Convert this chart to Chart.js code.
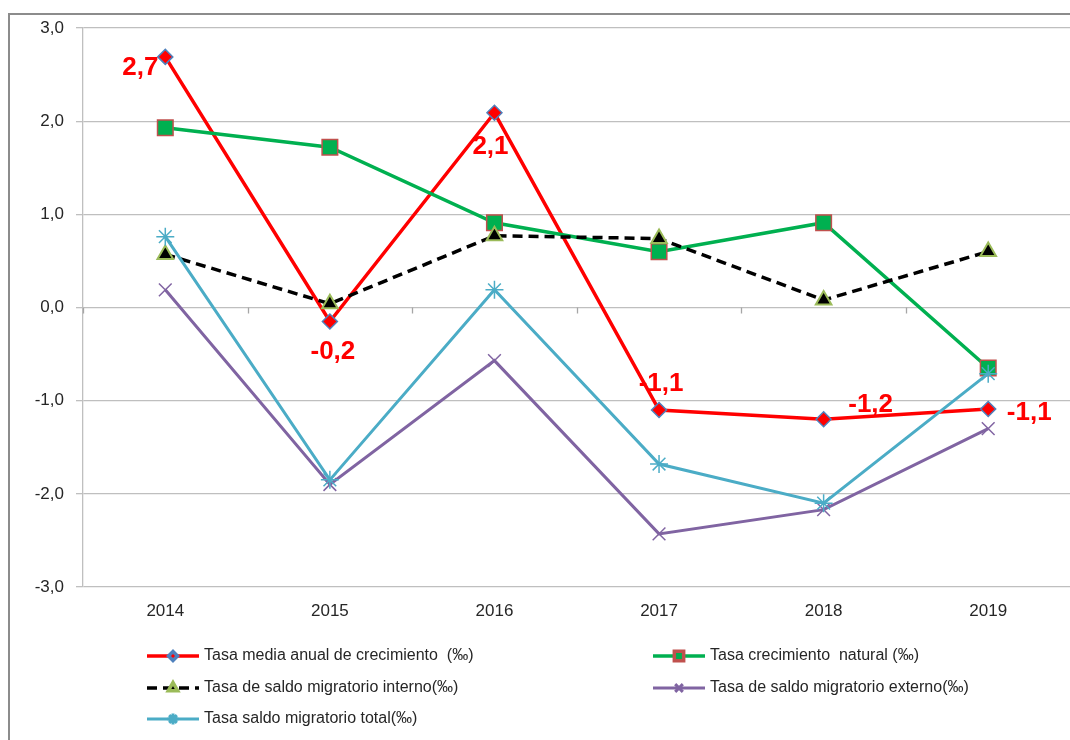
<!DOCTYPE html>
<html>
<head>
<meta charset="utf-8">
<script src="https://cdn.jsdelivr.net/npm/chart.js@4.4.1/dist/chart.umd.min.js"></script>
<style>
  html, body { margin:0; padding:0; background:#fff; overflow:hidden; }
  #wrap { width:1070px; height:740px; overflow:hidden; }
</style>
</head>
<body>
<div id="wrap"><canvas id="tasasChart" width="1083" height="740"></canvas></div>
<script>
// ===== Data =====
const years = ['2014', '2015', '2016', '2017', '2018', '2019'];
const crecimientoMedio = [2.69, -0.15, 2.09, -1.10, -1.20, -1.09];
const crecimientoNatural = [1.93, 1.72, 0.91, 0.60, 0.91, -0.65];
const saldoInterno = [0.57, 0.04, 0.77, 0.74, 0.08, 0.60];
const saldoExterno = [0.19, -1.90, -0.57, -2.43, -2.17, -1.30];
const saldoTotal = [0.76, -1.85, 0.19, -1.68, -2.10, -0.71];
const etiquetasMedio = ['2,7', '-0,2', '2,1', '-1,1', '-1,2', '-1,1'];
const yMin = -3, yMax = 3, yStep = 1;

const FONT = "'Liberation Sans', Arial, sans-serif";
const fmt = v => v.toFixed(1).replace('.', ',');

// ===== Plugins =====
const framePlugin = {
  id: 'frame',
  beforeDraw(chart) {
    const c = chart.ctx;
    c.save();
    c.strokeStyle = '#8c8c8c';
    c.lineWidth = 2;
    c.strokeRect(9, 14, 1200, 1000);
    c.restore();
  }
};

// small tick marks on the zero line, between categories
const zeroTicks = {
  id: 'zeroTicks',
  afterDatasetsDraw(chart) {
    const x = chart.scales.x, y = chart.scales.y;
    const y0 = y.getPixelForValue(0);
    const half = (x.getPixelForValue(1) - x.getPixelForValue(0)) / 2;
    const c = chart.ctx;
    c.save();
    c.strokeStyle = '#a6a6a6';
    c.lineWidth = 1.3;
    for (let i = 0; i <= years.length; i++) {
      const px = Math.round(x.getPixelForValue(0) - half + i * half * 2) + 0.5;
      c.beginPath(); c.moveTo(px, y0); c.lineTo(px, y0 + 6); c.stroke();
    }
    c.restore();
  }
};

// red value labels
const labelOffsets = [[-25, 11], [3, 30], [-4, 34], [2, -26], [47, -14], [41, 4]];
const valueLabels = {
  id: 'valueLabels',
  afterDatasetsDraw(chart) {
    const meta = chart.getDatasetMeta(0);
    const c = chart.ctx;
    c.save();
    c.fillStyle = '#ff0000';
    c.font = 'bold 26px ' + FONT;
    c.textAlign = 'center';
    c.textBaseline = 'middle';
    meta.data.forEach((pt, i) => {
      c.fillText(etiquetasMedio[i], pt.x + labelOffsets[i][0], pt.y + labelOffsets[i][1]);
    });
    c.restore();
  }
};

// two-column legend at the bottom
const legendSlots = [[147, 656], [653, 656], [147, 688], [653, 688], [147, 719]];
const legendDraw = {
  id: 'legendDraw',
  afterDraw(chart) {
    const c = chart.ctx;
    chart.data.datasets.forEach((ds, i) => {
      const [lx, ly] = legendSlots[i];
      c.save();
      c.strokeStyle = ds.borderColor;
      c.lineWidth = ds.borderWidth;
      c.setLineDash(ds.borderDash || []);
      c.beginPath(); c.moveTo(lx, ly); c.lineTo(lx + 52, ly); c.stroke();
      c.setLineDash([]);
      c.fillStyle = ds.pointBackgroundColor;
      c.strokeStyle = ds.pointBorderColor;
      Chart.helpers.drawPoint(c, {
        pointStyle: ds.pointStyle, radius: ds.pointRadius * 0.6,
        rotation: 0, borderWidth: 1
      }, lx + 26, ly);
      c.fillStyle = '#262626';
      c.font = '16px ' + FONT;
      c.textAlign = 'left';
      c.textBaseline = 'middle';
      c.fillText(ds.label, lx + 57, ly);
      c.restore();
    });
  }
};

// ===== Chart =====
const ctx = document.getElementById('tasasChart').getContext('2d');
new Chart(ctx, {
  type: 'line',
  data: {
    labels: years,
    datasets: [
      {
        label: 'Tasa media anual de crecimiento  (‰)', data: crecimientoMedio,
        borderColor: '#ff0000', borderWidth: 3.5,
        pointStyle: 'rectRot', pointRadius: 7.5, pointBackgroundColor: '#ff0000',
        pointBorderColor: '#4f81bd', pointBorderWidth: 1.5, order: 5
      },
      {
        label: 'Tasa crecimiento  natural (‰)', data: crecimientoNatural,
        borderColor: '#00b050', borderWidth: 3.5,
        pointStyle: 'rect', pointRadius: 11, pointBackgroundColor: '#00b050',
        pointBorderColor: '#c0504d', pointBorderWidth: 1.5, order: 4
      },
      {
        label: 'Tasa de saldo migratorio interno(‰)', data: saldoInterno,
        borderColor: '#000000', borderWidth: 3.5, borderDash: [10, 6],
        pointStyle: 'triangle', pointRadius: 9, pointBackgroundColor: '#000000',
        pointBorderColor: '#9bbb59', pointBorderWidth: 2, order: 3
      },
      {
        label: 'Tasa de saldo migratorio externo(‰)', data: saldoExterno,
        borderColor: '#8064a2', borderWidth: 3,
        pointStyle: 'crossRot', pointRadius: 9, pointBackgroundColor: '#8064a2',
        pointBorderColor: '#8064a2', pointBorderWidth: 1.5, order: 2
      },
      {
        label: 'Tasa saldo migratorio total(‰)', data: saldoTotal,
        borderColor: '#4bacc6', borderWidth: 3,
        pointStyle: 'star', pointRadius: 9, pointBackgroundColor: '#4bacc6',
        pointBorderColor: '#4bacc6', pointBorderWidth: 1.5, order: 1
      }
    ]
  },
  options: {
    responsive: false,
    animation: false,
    devicePixelRatio: 1,
    layout: { padding: { left: 0, right: 3, top: 28, bottom: 113 } },
    plugins: { legend: { display: false }, tooltip: { enabled: false } },
    elements: { line: { tension: 0, fill: false } },
    scales: {
      x: {
        offset: true,
        grid: { display: false, drawTicks: false },
        border: { display: false },
        ticks: { color: '#262626', font: { family: FONT, size: 17 }, padding: 14 },
        afterFit: s => { s.height = 40; }
      },
      y: {
        min: yMin, max: yMax,
        grid: { color: '#bfbfbf', lineWidth: 1.3, tickLength: 7 },
        border: { color: '#bfbfbf', width: 1.3 },
        ticks: {
          stepSize: yStep, color: '#262626', padding: 12,
          font: { family: FONT, size: 17 }, callback: v => fmt(v)
        },
        afterFit: s => { s.width = 83; }
      }
    }
  },
  plugins: [framePlugin, zeroTicks, valueLabels, legendDraw]
});
</script>
</body>
</html>
